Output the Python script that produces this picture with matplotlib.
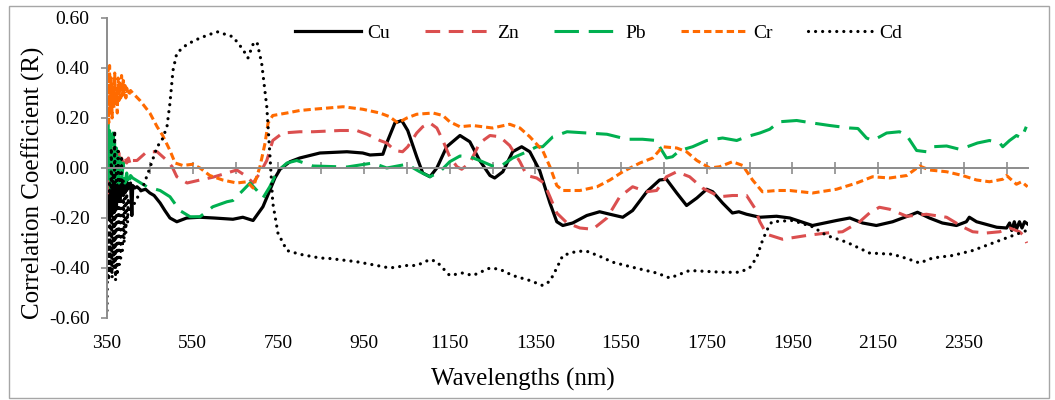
import matplotlib
matplotlib.use('Agg')
import matplotlib.pyplot as plt
from matplotlib.ticker import FuncFormatter
from matplotlib.patches import Rectangle

plt.rcParams['font.family'] = ['Liberation Serif', 'DejaVu Serif']

# ---------------- data ----------------
cu_wl = [350, 352, 354, 356, 358, 360, 362, 364, 366, 368, 370, 372, 374, 376, 378, 380, 382, 384, 386, 388,
         390, 392, 394, 396, 398, 400, 405, 408, 410, 415, 420, 430, 440, 450, 460, 474, 485, 497, 513, 536,
         567, 600, 644, 667, 691, 714, 730, 742, 754, 777, 800, 847, 910, 947, 964, 994, 1003, 1022, 1038, 1052,
         1073, 1087, 1104, 1120, 1143, 1174, 1197, 1220, 1244, 1255, 1274, 1297, 1318, 1337, 1360, 1384, 1400,
         1414, 1437, 1470, 1500, 1524, 1554, 1577, 1610, 1640, 1656, 1680, 1703, 1727, 1750, 1764, 1787, 1810,
         1825, 1843, 1874, 1913, 1944, 1997, 2053, 2084, 2114, 2146, 2184, 2223, 2242, 2270, 2300, 2333, 2356,
         2363, 2380, 2427, 2450, 2457, 2462, 2468, 2473, 2480, 2486, 2492, 2500]
cu_r = [-0.10, -0.18, -0.05, -0.20, -0.08, -0.15, -0.03, -0.18, -0.06, -0.14, -0.02, -0.16, -0.07, -0.12, -0.04,
        -0.13, -0.06, -0.11, -0.05, -0.10, -0.06, -0.10, -0.05, -0.09, -0.06, -0.08, -0.06, -0.19, -0.07, -0.08,
        -0.075, -0.09, -0.085, -0.10, -0.11, -0.14, -0.17, -0.20, -0.215, -0.20, -0.197, -0.20, -0.205, -0.197,
        -0.21, -0.155, -0.09, -0.04, -0.005, 0.025, 0.04, 0.06, 0.065, 0.06, 0.052, 0.055, 0.10, 0.18, 0.19, 0.15,
        0.045, -0.02, -0.035, 0.0, 0.085, 0.13, 0.105, 0.03, -0.03, -0.04, -0.015, 0.065, 0.085, 0.065, -0.01,
        -0.14, -0.215, -0.23, -0.22, -0.19, -0.175, -0.185, -0.197, -0.17, -0.095, -0.048, -0.045, -0.10, -0.15,
        -0.12, -0.085, -0.095, -0.14, -0.18, -0.175, -0.185, -0.197, -0.193, -0.20, -0.23, -0.21, -0.20, -0.22,
        -0.23, -0.215, -0.19, -0.177, -0.20, -0.22, -0.23, -0.215, -0.197, -0.215, -0.237, -0.24, -0.22, -0.25,
        -0.215, -0.245, -0.215, -0.24, -0.215, -0.225]

zn_wl = [350, 352, 354, 356, 358, 360, 362, 364, 366, 368, 370, 372, 374, 376, 378, 380, 384, 388, 392, 396,
         400, 405, 410, 420, 443, 467, 490, 502, 513, 537, 567, 597, 630, 653, 677, 691, 707, 723, 730, 737,
         760, 800, 831, 894, 933, 957, 987, 1003, 1022, 1040, 1052, 1073, 1087, 1104, 1120, 1134, 1150, 1167,
         1178, 1197, 1220, 1244, 1267, 1290, 1314, 1330, 1353, 1370, 1384, 1400, 1424, 1454, 1484, 1517, 1547,
         1577, 1610, 1633, 1656, 1680, 1710, 1740, 1780, 1810, 1843, 1862, 1874, 1890, 1927, 1983, 2030, 2067,
         2107, 2130, 2153, 2177, 2217, 2263, 2310, 2347, 2371, 2403, 2434, 2457, 2480, 2490, 2497]
zn_r = [0.0, -0.10, 0.12, -0.05, 0.10, -0.02, 0.08, 0.0, 0.06, 0.01, 0.05, 0.0, 0.07, 0.02, 0.06, 0.0, 0.04,
        0.01, 0.05, 0.02, 0.04, 0.01, 0.03, 0.03, 0.065, 0.065, 0.03, 0.005, -0.035, -0.06, -0.048, -0.037,
        -0.02, -0.008, -0.035, -0.06, -0.02, 0.03, 0.07, 0.11, 0.14, 0.145, 0.145, 0.15, 0.15, 0.135, 0.11, 0.10,
        0.07, 0.065, 0.085, 0.14, 0.165, 0.18, 0.16, 0.11, 0.045, 0.005, -0.005, 0.02, 0.10, 0.13, 0.125, 0.09,
        0.025, -0.03, -0.04, -0.06, -0.115, -0.18, -0.22, -0.24, -0.245, -0.20, -0.115, -0.075, -0.095, -0.09,
        -0.035, -0.015, -0.035, -0.08, -0.115, -0.11, -0.11, -0.16, -0.215, -0.265, -0.285, -0.27, -0.26, -0.255,
        -0.215, -0.18, -0.157, -0.165, -0.193, -0.185, -0.197, -0.235, -0.255, -0.26, -0.255, -0.24, -0.255,
        -0.27, -0.30]

pb_wl = [350, 352, 354, 356, 358, 360, 362, 364, 366, 368, 370, 372, 374, 376, 378, 380, 384, 388, 392, 396,
         400, 405, 410, 443, 474, 497, 520, 544, 567, 597, 630, 644, 667, 684, 700, 714, 730, 747, 770, 793,
         831, 910, 971, 1003, 1050, 1080, 1104, 1127, 1150, 1174, 1197, 1220, 1250, 1267, 1297, 1330, 1353,
         1367, 1391, 1424, 1470, 1517, 1564, 1600, 1633, 1640, 1656, 1670, 1687, 1717, 1750, 1787, 1820, 1843,
         1874, 1897, 1920, 1960, 1997, 2037, 2084, 2103, 2123, 2137, 2154, 2170, 2200, 2217, 2240, 2263, 2277,
         2310, 2340, 2363, 2382, 2410, 2434, 2441, 2457, 2473, 2485, 2496]
pb_r = [0.0, 0.18, -0.05, 0.15, -0.08, 0.12, -0.06, 0.14, -0.04, 0.10, -0.07, 0.08, -0.05, 0.06, -0.06, 0.04,
        -0.05, 0.02, -0.06, -0.02, -0.07, -0.03, -0.04, -0.075, -0.09, -0.115, -0.17, -0.195, -0.195, -0.155,
        -0.135, -0.13, -0.09, -0.06, -0.09, -0.12, -0.075, -0.015, 0.02, 0.03, 0.008, 0.004, 0.02, 0.0, 0.015,
        -0.015, -0.035, -0.015, 0.025, 0.048, 0.045, 0.03, 0.008, 0.005, 0.04, 0.065, 0.085, 0.085, 0.125, 0.145,
        0.14, 0.135, 0.115, 0.115, 0.11, 0.085, 0.04, 0.045, 0.07, 0.085, 0.11, 0.12, 0.11, 0.125, 0.14, 0.155,
        0.185, 0.19, 0.18, 0.17, 0.16, 0.158, 0.12, 0.11, 0.125, 0.14, 0.145, 0.13, 0.07, 0.065, 0.085, 0.088,
        0.075, 0.088, 0.10, 0.11, 0.10, 0.085, 0.11, 0.13, 0.12, 0.165]

cr_wl = [350, 352, 354, 356, 358, 360, 362, 364, 366, 368, 370, 372, 374, 376, 378, 380, 382, 384, 386, 388,
         390, 392, 394, 396, 400, 405, 410, 427, 450, 467, 480, 497, 509, 527, 550, 567, 590, 620, 653, 677,
         691, 707, 719, 726, 737, 770, 800, 831, 901, 947, 987, 1010, 1029, 1050, 1073, 1111, 1134, 1150, 1174,
         1204, 1250, 1290, 1314, 1337, 1356, 1367, 1384, 1400, 1414, 1454, 1494, 1524, 1554, 1594, 1624, 1647,
         1680, 1703, 1727, 1757, 1780, 1810, 1834, 1857, 1880, 1913, 1944, 1997, 2053, 2100, 2137, 2177, 2217,
         2247, 2270, 2310, 2347, 2380, 2410, 2441, 2450, 2473, 2485, 2499]
cr_r = [0.25, 0.40, 0.18, 0.41, 0.22, 0.36, 0.20, 0.33, 0.24, 0.38, 0.26, 0.30, 0.22, 0.36, 0.27, 0.34, 0.28,
        0.37, 0.29, 0.35, 0.30, 0.33, 0.28, 0.32, 0.29, 0.31, 0.30, 0.27, 0.22, 0.165, 0.13, 0.07, 0.02, 0.01,
        0.015, 0.0, -0.03, -0.048, -0.06, -0.055, -0.08, 0.005, 0.10, 0.18, 0.21, 0.22, 0.23, 0.235, 0.245,
        0.235, 0.22, 0.205, 0.18, 0.20, 0.215, 0.22, 0.21, 0.185, 0.165, 0.17, 0.16, 0.175, 0.16, 0.125, 0.09,
        0.07, 0.005, -0.07, -0.09, -0.09, -0.075, -0.048, -0.015, 0.02, 0.04, 0.085, 0.08, 0.065, 0.03, 0.0,
        0.005, 0.025, 0.01, -0.048, -0.095, -0.09, -0.09, -0.10, -0.085, -0.06, -0.035, -0.04, -0.03, 0.008,
        -0.008, -0.015, -0.03, -0.048, -0.055, -0.045, -0.03, -0.065, -0.055, -0.075]

cd_wl = [350, 352, 354, 356, 358, 360, 362, 364, 366, 368, 370, 372, 374, 376, 378, 380, 382, 384, 386, 388,
         390, 392, 394, 396, 398, 400, 404, 410, 434, 450, 467, 478, 490, 497, 504, 513, 537, 567, 607, 644,
         667, 679, 691, 700, 711, 723, 730, 737, 749, 770, 800, 847, 870, 933, 980, 1010, 1050, 1073, 1104,
         1120, 1150, 1180, 1204, 1244, 1267, 1297, 1337, 1367, 1384, 1400, 1414, 1447, 1470, 1500, 1531, 1577,
         1633, 1664, 1710, 1787, 1827, 1850, 1867, 1878, 1890, 1902, 1950, 1997, 2030, 2077, 2130, 2184, 2217,
         2247, 2277, 2324, 2371, 2418, 2457, 2497]
cd_r = [-0.57, -0.25, -0.45, -0.05, -0.42, 0.08, -0.44, -0.02, -0.40, 0.15, -0.45, 0.02, -0.43, 0.08, -0.40,
        -0.02, -0.36, 0.05, -0.33, -0.05, -0.30, -0.08, -0.26, -0.10, -0.22, -0.12, -0.18, -0.155, -0.075, 0.0,
        0.085, 0.11, 0.165, 0.26, 0.39, 0.46, 0.495, 0.52, 0.545, 0.525, 0.475, 0.44, 0.495, 0.505, 0.42, 0.245,
        0.06, -0.14, -0.26, -0.33, -0.345, -0.36, -0.362, -0.375, -0.39, -0.40, -0.39, -0.39, -0.366, -0.375,
        -0.43, -0.42, -0.43, -0.40, -0.405, -0.43, -0.45, -0.47, -0.453, -0.40, -0.35, -0.333, -0.333, -0.353,
        -0.377, -0.397, -0.42, -0.44, -0.41, -0.417, -0.417, -0.40, -0.357, -0.30, -0.25, -0.215, -0.21, -0.235,
        -0.27, -0.297, -0.34, -0.345, -0.362, -0.38, -0.36, -0.35, -0.33, -0.30, -0.275, -0.25]

x_tick_labels = [350, 550, 750, 950, 1150, 1350, 1550, 1750, 1950, 2150, 2350]
y_ticks = [-0.6, -0.4, -0.2, 0.0, 0.2, 0.4, 0.6]

# ---------------- figure ----------------
W, H = 1055, 400
fig = plt.figure(figsize=(W / 100, H / 100), dpi=100)
fig.patches.append(Rectangle((9 / W, 2 / H), 1040 / W, 392 / H, transform=fig.transFigure,
                             fill=False, edgecolor='#A6A6A6', linewidth=1.0))
ax = fig.add_axes([107 / W, 82 / H, 921 / W, 300 / H])

ax.plot(cu_wl, cu_r, color='black', lw=2.3, label='Cu', solid_joinstyle='round')
ax.plot(zn_wl, zn_r, color='#DB4F4F', lw=2.2, linestyle=(0, (4.8, 2.8)), label='Zn')
ax.plot(pb_wl, pb_r, color='#00B050', lw=2.2, linestyle=(0, (8, 3.2)), label='Pb')
ax.plot(cr_wl, cr_r, color='#FF6A00', lw=2.2, linestyle=(0, (2.4, 1.3)), label='Cr')
ax.plot(cd_wl, cd_r, color='black', lw=2.3, linestyle=(0, (0.01, 2.2)), dash_capstyle='round', label='Cd')

ax.set_xlim(350, 2500)
ax.set_ylim(-0.6, 0.6)
for s in ['top', 'right']:
    ax.spines[s].set_visible(False)
ax.spines['bottom'].set_position(('data', 0))
ax.spines['bottom'].set_color('#8C8C8C')
ax.spines['bottom'].set_linewidth(1.4)
ax.spines['left'].set_color('#8C8C8C')
ax.spines['left'].set_linewidth(1.4)

ax.set_xticks(range(450, 2451, 100))
ax.tick_params(axis='x', direction='inout', length=8, width=1.2, color='#8C8C8C', labelbottom=False)
ax.set_yticks(y_ticks)
ax.yaxis.set_major_formatter(FuncFormatter(lambda v, p: f"{v:.2f}"))
ax.tick_params(axis='y', direction='out', length=4.5, width=1.2, color='#8C8C8C', labelsize=14, pad=8)

sec = ax.secondary_xaxis('bottom')
sec.set_xticks(x_tick_labels)
sec.set_xticklabels([str(v) for v in x_tick_labels])
sec.tick_params(length=0, labelsize=14, pad=12)
sec.spines['bottom'].set_visible(False)

fig.text(33 / W, 1 - 183 / H, 'Correlation Coefficient (R)', rotation=90, ha='center', va='center', fontsize=18)
fig.text(523 / W, 1 - 379 / H, 'Wavelengths (nm)', ha='center', va='center', fontsize=18)

fig.legend(loc='center', bbox_to_anchor=(599 / W, 1 - 33 / H), ncol=5, frameon=False, fontsize=14,
           handlelength=3.35, handletextpad=0.35, columnspacing=1.8)

fig.savefig('out.png', dpi=100)
